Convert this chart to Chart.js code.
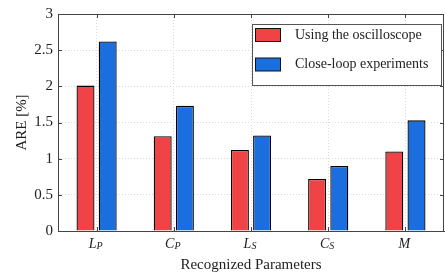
<!DOCTYPE html>
<html>
<head>
<meta charset="utf-8">
<script src="https://cdn.jsdelivr.net/npm/chart.js@4"></script>
<style>
html,body{margin:0;padding:0;background:#fff;overflow:hidden;}
#wrap{width:445px;height:274px;position:relative;}
</style>
</head>
<body>
<div id="wrap"><canvas id="c" width="445" height="274"></canvas></div>
<script>
const catMain = ['L', 'C', 'L', 'C', 'M'];
const catSub = ['P', 'P', 'S', 'S', ''];
const seriesNames = ['Using the oscilloscope', 'Close-loop experiments'];
const oscilloscope = [2.01, 1.31, 1.12, 0.72, 1.10];
const closeLoop = [2.62, 1.73, 1.32, 0.90, 1.53];
const yTicks = [0, 0.5, 1, 1.5, 2, 2.5, 3];
const xTitle = 'Recognized Parameters';
const yTitle = 'ARE [%]';

const RED = '#F04346';
const BLUE = '#1B6EDD';
const AXIS = '#444444';
const SERIF = '"Liberation Serif", "DejaVu Serif", serif';
Chart.defaults.font.family = SERIF;

const framePlugin = {
  id: 'frame',
  afterDraw(chart) {
    const {ctx, chartArea: a, scales: {x, y}} = chart;
    ctx.save();
    ctx.strokeStyle = AXIS;
    ctx.lineWidth = 1;
    ctx.setLineDash([]);
    ctx.beginPath();
    ctx.moveTo(a.left, a.top + 0.5); ctx.lineTo(a.right, a.top + 0.5);
    ctx.moveTo(a.right - 0.5, a.top); ctx.lineTo(a.right - 0.5, a.bottom);
    ctx.stroke();
    ctx.beginPath();
    yTicks.forEach(v => {
      const py = Math.round(y.getPixelForValue(v)) + 0.5;
      ctx.moveTo(a.left, py); ctx.lineTo(a.left + 4, py);
      ctx.moveTo(a.right, py); ctx.lineTo(a.right - 4, py);
    });
    catMain.forEach((m, i) => {
      const px = Math.round(x.getPixelForValue(i)) + 0.5;
      ctx.moveTo(px, a.bottom); ctx.lineTo(px, a.bottom - 4);
      ctx.moveTo(px, a.top); ctx.lineTo(px, a.top + 4);
    });
    ctx.stroke();
    ctx.fillStyle = '#222';
    ctx.textBaseline = 'alphabetic';
    ctx.textAlign = 'left';
    catMain.forEach((m, i) => {
      const px = x.getPixelForValue(i);
      ctx.font = 'italic 14px ' + SERIF;
      const w1 = ctx.measureText(m).width;
      ctx.font = 'italic 10px ' + SERIF;
      const w2 = ctx.measureText(catSub[i]).width;
      const start = px - (w1 + w2) / 2 - 1;
      const base = a.bottom + 17;
      ctx.font = 'italic 14px ' + SERIF;
      ctx.fillText(m, start, base);
      ctx.font = 'italic 10px ' + SERIF;
      ctx.fillText(catSub[i], start + w1, base + 0.5);
    });
    const bx = a.right - 192, by = a.top + 10, bw = 189, bh = 61;
    ctx.fillStyle = '#fff';
    ctx.fillRect(bx, by, bw, bh);
    ctx.strokeStyle = '#555';
    ctx.strokeRect(bx + 0.5, by + 0.5, bw, bh);
    const cols = [RED, BLUE];
    seriesNames.forEach((n, i) => {
      const ry = by + 4.5 + i * 29.5;
      ctx.fillStyle = cols[i];
      ctx.fillRect(bx + 3.5, ry, 25, 13);
      ctx.strokeStyle = '#111';
      ctx.strokeRect(bx + 3.5, ry, 25, 13);
      ctx.fillStyle = '#222';
      ctx.font = '14px ' + SERIF;
      ctx.textBaseline = 'middle';
      ctx.fillText(n, bx + 43, ry + 6.5);
    });
    ctx.restore();
  }
};

new Chart(document.getElementById('c'), {
  type: 'bar',
  data: {
    labels: catMain.map((m, i) => m + catSub[i]),
    datasets: [
      {label: seriesNames[0], data: oscilloscope, backgroundColor: RED, borderColor: '#000', borderWidth: 1.3,
       categoryPercentage: 0.575, barPercentage: 0.81},
      {label: seriesNames[1], data: closeLoop, backgroundColor: BLUE, borderColor: '#000', borderWidth: 1.3,
       categoryPercentage: 0.575, barPercentage: 0.81}
    ]
  },
  options: {
    responsive: false,
    animation: false,
    layout: {padding: {top: 8, right: 1, left: 0, bottom: 0}},
    plugins: {legend: {display: false}, tooltip: {enabled: false}},
    scales: {
      x: {
        grid: {offset: false, color: '#d8d8d8', lineWidth: 1, drawTicks: false},
        border: {display: true, color: AXIS, width: 1, dash: [1, 2]},
        ticks: {color: 'rgba(0,0,0,0)', font: {size: 14, family: SERIF}, padding: 6},
        title: {display: true, text: xTitle, color: '#222', font: {size: 15, family: SERIF}, padding: {top: 0, bottom: 0}},
        afterFit(s) { s.height = 43; }
      },
      y: {
        min: 0, max: 3,
        afterBuildTicks(s) { s.ticks = yTicks.map(v => ({value: v})); },
        grid: {color: '#d8d8d8', lineWidth: 1, drawTicks: false},
        border: {display: true, color: AXIS, width: 1, dash: [1, 2]},
        ticks: {color: '#222', font: {size: 15, family: SERIF}, padding: 5,
                callback: v => String(v)},
        title: {display: true, text: yTitle, color: '#222', font: {size: 15, family: SERIF}, padding: {top: 13, bottom: 0}},
        afterFit(s) { s.width = 58; }
      }
    }
  },
  plugins: [framePlugin]
});
</script>
</body>
</html>
